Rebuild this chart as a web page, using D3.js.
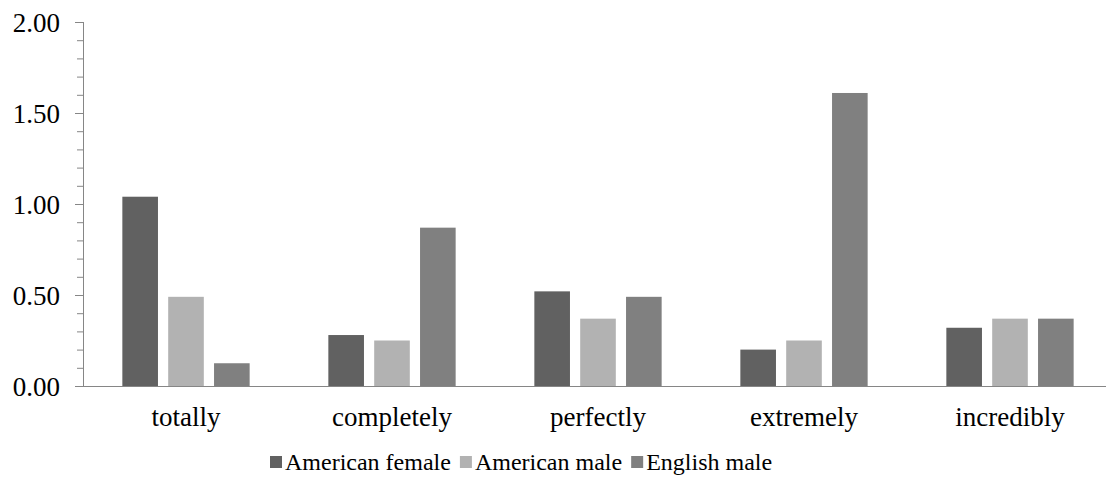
<!DOCTYPE html>
<html>
<head>
<meta charset="utf-8">
<script src="https://cdn.jsdelivr.net/npm/d3@7"></script>
<style>
  body { margin: 0; background: #fff; }
  svg { display: block; font-family: "Liberation Serif", "Times New Roman", serif; }
</style>
</head>
<body>
<script>
var categories = ["totally", "completely", "perfectly", "extremely", "incredibly"];
var seriesNames = ["American female", "American male", "English male"];
var americanFemale = [1.04, 0.28, 0.52, 0.20, 0.32];
var americanMale = [0.49, 0.25, 0.37, 0.25, 0.37];
var englishMale = [0.125, 0.87, 0.49, 1.61, 0.37];
var yTicks = [0, 0.5, 1, 1.5, 2];

var colors = ["#616161", "#b2b2b2", "#808080"];
var seriesValues = [americanFemale, americanMale, englishMale];

var w = 1106,
  h = 493,
  marginLeft = 83,
  plotTop = 22,
  plotBottom = 386,
  band = 206;

var svg = d3.select("body").append("svg")
  .attr("width", w)
  .attr("height", h);

var rows = categories.map((c, i) => ({
  cat: c,
  vals: seriesNames.map((s, j) => ({ key: s, value: seriesValues[j][i] }))
}));

var x0 = d3.scaleBand()
  .domain(categories)
  .range([marginLeft, marginLeft + band * categories.length])
  .paddingInner(0.382)
  .paddingOuter(0.191);

var x1 = d3.scaleBand()
  .domain(seriesNames)
  .range([0, x0.bandwidth()])
  .paddingInner(0.223);

var y = d3.scaleLinear().domain([0, 2]).range([plotBottom, plotTop]);

var color = d3.scaleOrdinal().domain(seriesNames).range(colors);

// bars
svg.append("g").selectAll("g")
  .data(rows)
  .enter().append("g")
  .attr("transform", d => `translate(${x0(d.cat)},0)`)
  .selectAll("rect")
  .data(d => d.vals)
  .enter().append("rect")
  .attr("x", d => x1(d.key))
  .attr("y", d => y(d.value))
  .attr("width", x1.bandwidth())
  .attr("height", d => plotBottom - y(d.value))
  .attr("fill", d => color(d.key));

// minor ticks on y
var yMinor = d3.axisLeft(y).tickValues(d3.range(0, 2.0001, 0.1)).tickSize(6).tickFormat("");
svg.append("g")
  .attr("transform", `translate(${marginLeft},0)`)
  .call(yMinor)
  .call(g => g.select(".domain").remove())
  .call(g => g.selectAll("line").attr("stroke", "#868686"));

// y axis
var yAxis = d3.axisLeft(y).tickValues(yTicks).tickSize(8).tickPadding(15).tickFormat(d3.format(".2f"));
svg.append("g")
  .attr("transform", `translate(${marginLeft},0)`)
  .call(yAxis)
  .call(g => g.select(".domain").attr("d", `M0.5,${plotTop}V${plotBottom}`).attr("stroke", "#868686"))
  .call(g => g.selectAll("line").attr("stroke", "#868686"))
  .call(g => g.selectAll("text").attr("fill", "#000").attr("dy", "0.36em")
    .style("font-size", "27px").style("font-family", "Liberation Serif"));

// x axis
var xAxis = d3.axisBottom(x0).tickSize(0).tickPadding(0);
svg.append("g")
  .attr("transform", `translate(0,${plotBottom})`)
  .call(xAxis)
  .call(g => g.select(".domain").attr("d", `M${marginLeft},0.5H${w}`).attr("stroke", "#868686"))
  .call(g => g.selectAll("text").attr("fill", "#000").attr("dy", null).attr("y", 40)
    .style("font-size", "27px").style("font-family", "Liberation Serif"));

// legend, items laid out one after another
var legend = svg.append("g").attr("transform", "translate(270,456)");
var lx = 0;
seriesNames.forEach(name => {
  var item = legend.append("g").attr("transform", `translate(${lx},0)`);
  item.append("rect")
    .attr("width", 12)
    .attr("height", 12)
    .attr("fill", color(name));
  var t = item.append("text")
    .attr("x", 15)
    .attr("y", 14)
    .style("font-size", "24px")
    .text(name);
  lx += 15 + t.node().getComputedTextLength() + 9;
});
</script>
</body>
</html>
